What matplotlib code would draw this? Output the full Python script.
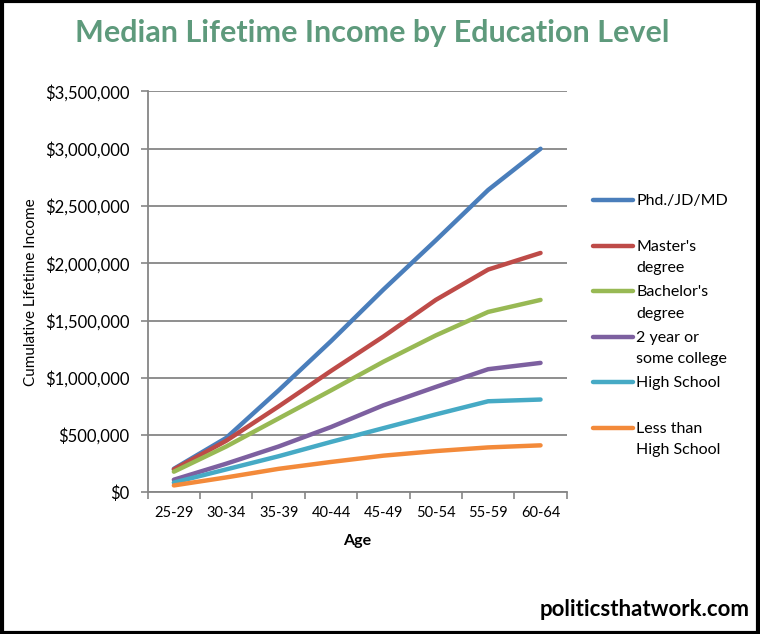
import matplotlib.pyplot as plt
from matplotlib.lines import Line2D
from matplotlib.patches import Rectangle
from matplotlib.ticker import FuncFormatter

plt.rcParams['font.family'] = ['Lato', 'DejaVu Sans']

ages = ['25-29', '30-34', '35-39', '40-44', '45-49', '50-54', '55-59', '60-64']
phd = [205000, 475000, 890000, 1320000, 1770000, 2200000, 2640000, 3000000]
masters = [200000, 450000, 750000, 1060000, 1360000, 1680000, 1945000, 2090000]
bachelors = [180000, 400000, 645000, 890000, 1140000, 1370000, 1575000, 1680000]
some_college = [110000, 250000, 400000, 570000, 760000, 920000, 1075000, 1130000]
high_school = [85000, 200000, 315000, 440000, 560000, 680000, 795000, 810000]
less_hs = [60000, 130000, 205000, 265000, 320000, 360000, 392000, 410000]

series = [
    ('Phd./JD/MD', phd, '#4A7EBB'),
    ("Master's\ndegree", masters, '#BE4B48'),
    ("Bachelor's\ndegree", bachelors, '#98B954'),
    ('2 year or\nsome college', some_college, '#7D60A0'),
    ('High School', high_school, '#46AAC5'),
    ('Less than\nHigh School', less_hs, '#F38A3A'),
]

fig = plt.figure(figsize=(7.6, 6.34), dpi=100)
ax = fig.add_axes([0.1943, 0.2235, 0.7457 - 0.1943, 0.8557 - 0.2235])

x = range(len(ages))
for label, vals, col in series:
    ax.plot(x, vals, color=col, lw=3.2, solid_capstyle='round')

ax.set_xlim(-0.5, len(ages) - 0.5)
ax.set_ylim(0, 3500000)
ax.set_yticks(range(0, 3500001, 500000))
ax.yaxis.set_major_formatter(FuncFormatter(lambda v, p: '${:,.0f}'.format(v)))
ax.set_xticks([i - 0.5 for i in range(len(ages) + 1)])
ax.set_xticklabels([])
ax.set_xticks(list(x), minor=True)
ax.set_xticklabels(ages, minor=True)
ax.tick_params(axis='x', which='minor', length=0, pad=10, labelsize=10.5)
ax.tick_params(axis='x', which='major', length=5, color='#868686', width=1.2)
ax.tick_params(axis='y', length=5, color='#868686', width=1.2, labelsize=12, pad=8)
ax.grid(axis='y', color='#868686', lw=1.3)
ax.set_axisbelow(True)
for s in ['top', 'right']:
    ax.spines[s].set_visible(False)
for s in ['left', 'bottom']:
    ax.spines[s].set_color('#868686')
    ax.spines[s].set_linewidth(1.3)

ax.set_ylabel('Cumulative Lifetime Income', fontsize=11, labelpad=5)
ax.set_xlabel('Age', fontsize=11.5, fontweight='bold', labelpad=10)

fig.text(0.49, 0.948, 'Median Lifetime Income by Education Level', ha='center', va='center',
         fontsize=22, fontweight='bold', color='#5E9A7C')

# legend drawn by hand to keep the Excel look
for i, (label, vals, col) in enumerate(series):
    yp = 1 - (200 + 45.6 * i) / 634
    fig.add_artist(Line2D([593 / 760, 633 / 760], [yp, yp], color=col, lw=3.2,
                          solid_capstyle='round', transform=fig.transFigure))
    fig.text(636 / 760, yp + 6 / 634, label, ha='left', va='top', fontsize=11.5,
             linespacing=1.68)

fig.text(0.986, 0.038, 'politicsthatwork.com', ha='right', va='center', fontsize=16,
         fontweight='bold')

fig.add_artist(Rectangle((0.002, 0.002), 0.996, 0.996, transform=fig.transFigure,
                         fill=False, edgecolor='black', lw=3))

fig.savefig('out.png', dpi=100)
